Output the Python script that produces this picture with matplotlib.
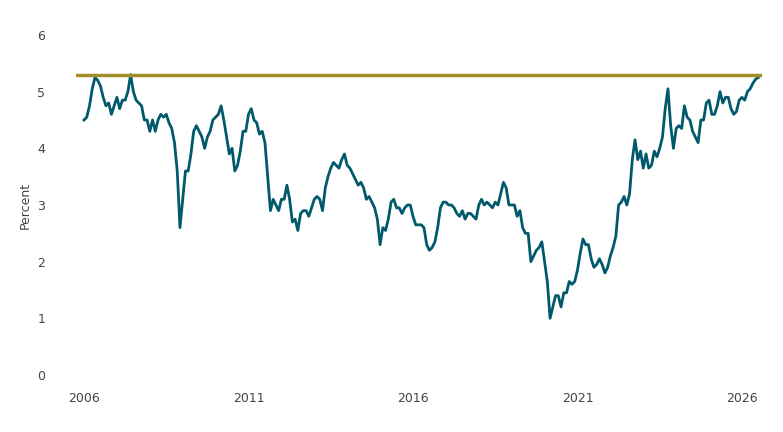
import matplotlib
matplotlib.use("Agg")
import matplotlib.pyplot as plt
import numpy as np

start_year = 2006
monthly = [
 4.5,4.55,4.75,5.05,5.25,5.2,5.1,4.9,4.75,4.8,4.6,4.75,
 4.9,4.7,4.85,4.85,5.0,5.3,5.0,4.85,4.8,4.75,4.5,4.5,
 4.3,4.5,4.3,4.5,4.6,4.55,4.6,4.45,4.35,4.1,3.6,2.6,
 3.1,3.6,3.6,3.9,4.3,4.4,4.3,4.2,4.0,4.2,4.3,4.5,
 4.55,4.6,4.75,4.5,4.2,3.9,4.0,3.6,3.7,3.95,4.3,4.3,
 4.6,4.7,4.5,4.45,4.25,4.3,4.1,3.5,2.9,3.1,3.0,2.9,
 3.1,3.1,3.35,3.1,2.7,2.75,2.55,2.85,2.9,2.9,2.8,2.95,
 3.1,3.15,3.1,2.9,3.3,3.5,3.65,3.75,3.7,3.65,3.8,3.9,
 3.7,3.65,3.55,3.45,3.35,3.4,3.3,3.1,3.15,3.05,2.95,2.75,
 2.3,2.6,2.55,2.75,3.05,3.1,2.95,2.95,2.85,2.95,3.0,3.0,
 2.8,2.65,2.65,2.65,2.6,2.3,2.2,2.25,2.35,2.6,2.95,3.05,
 3.05,3.0,3.0,2.95,2.85,2.8,2.9,2.75,2.85,2.85,2.8,2.75,
 3.0,3.1,3.0,3.05,3.0,2.95,3.05,3.0,3.2,3.4,3.3,3.0,
 3.0,3.0,2.8,2.9,2.6,2.5,2.5,2.0,2.1,2.2,2.25,2.35,
 2.0,1.65,1.0,1.2,1.4,1.4,1.2,1.45,1.45,1.65,1.6,1.65,
 1.85,2.15,2.4,2.3,2.3,2.05,1.9,1.95,2.05,1.95,1.8,1.9,
 2.1,2.25,2.45,3.0,3.05,3.15,3.0,3.2,3.8,4.15,3.8,3.95,
 3.65,3.9,3.65,3.7,3.95,3.85,4.0,4.2,4.7,5.05,4.4,4.0,
 4.35,4.4,4.35,4.75,4.55,4.5,4.3,4.2,4.1,4.5,4.5,4.8,
 4.85,4.6,4.6,4.75,5.0,4.8,4.9,4.9,4.7,4.6,4.65,4.85,
 4.9,4.85,5.0,5.05,5.15,5.22,5.25,
]
ref_level = 5.3
xticks = [2006, 2011, 2016, 2021, 2026]
yticks = [0, 1, 2, 3, 4, 5, 6]

x = start_year + np.arange(len(monthly)) / 12.0

fig = plt.figure(figsize=(7.83, 4.32), dpi=100)
ax = fig.add_axes([0.0968, 0.132, 0.876, 0.787])
ax.plot(x, monthly, color="#005A6B", lw=2.0)
ax.axhline(ref_level, color="#A38D2B", lw=2.5)
ax.set_xlim(2005.75, 2026.6)
ax.set_ylim(0, 6)
ax.set_xticks(xticks)
ax.set_yticks(yticks)
for s in ax.spines.values():
    s.set_visible(False)
ax.tick_params(axis="both", length=0, colors="#444444", labelsize=9)
ax.tick_params(axis="x", pad=12)
ax.tick_params(axis="y", pad=22)
ax.set_ylabel("Percent", color="#444444", fontsize=9, labelpad=4)
fig.savefig("out.png")
